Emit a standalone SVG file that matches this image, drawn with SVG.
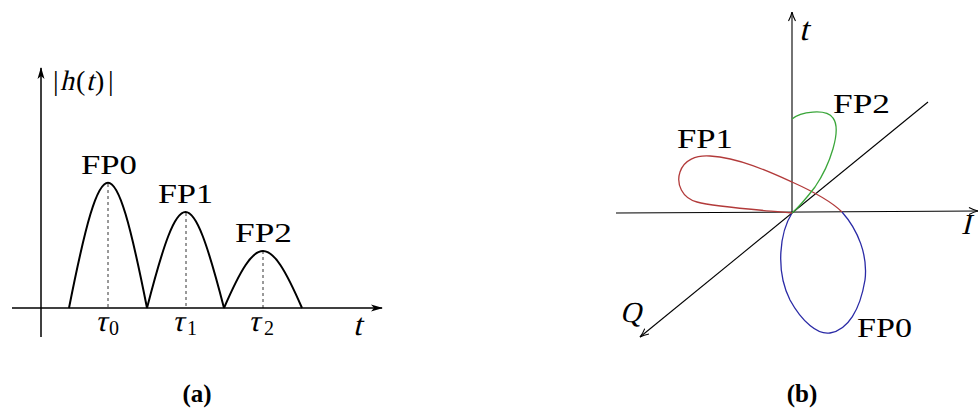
<svg xmlns="http://www.w3.org/2000/svg" width="979" height="410" viewBox="0 0 979 410">
<style>
.ax{stroke:#000;stroke-width:1.5;fill:none}
.axb{stroke:#000;stroke-width:1.1;fill:none}
.hump{stroke:#000;stroke-width:2;fill:none}
.dash{stroke:#000;stroke-width:0.8;stroke-dasharray:3 3;fill:none}
.lbl{font-family:"Liberation Serif",serif;font-size:27px;fill:#000}
.math{font-family:"Liberation Serif",serif;fill:#000}
.cap{font-family:"Liberation Serif",serif;font-weight:bold;font-size:25px;fill:#000}
</style>
<defs>
<marker id="arrA" viewBox="0 0 12 8" refX="11" refY="4" markerWidth="12" markerHeight="8" markerUnits="userSpaceOnUse" orient="auto">
<path d="M0,0.5 L12,4 L0,7.5 L3,4 z" fill="#000"/>
</marker>
<marker id="arrB" viewBox="0 0 10 8" refX="9.5" refY="4" markerWidth="10" markerHeight="8" markerUnits="userSpaceOnUse" orient="auto">
<path d="M0.5,0.5 Q5,3 9.5,4 Q5,5 0.5,7.5" fill="none" stroke="#000" stroke-width="1.1"/>
</marker>
</defs>
<rect width="979" height="410" fill="#fff"/>

<g id="panel-a">
<g id="axes-a">
<line class="ax" x1="41" y1="337" x2="41" y2="68" marker-end="url(#arrA)"/>
<line class="ax" x1="12" y1="308" x2="382" y2="308" marker-end="url(#arrA)"/>
<g id="ylabel-a" class="math" font-size="28">
<text x="53" y="90">|</text>
<text transform="translate(60,90) skewX(-13)">h</text>
<text x="76" y="90">(</text>
<text transform="translate(86,90) skewX(-14)">t</text>
<text x="95" y="90">)</text>
<text x="108" y="90">|</text>
</g>
<text class="math" font-size="31" transform="translate(353,335) skewX(-14)">t</text>
</g>
<g id="FP0-a">
<path class="hump" d="M69,308 C102,141 114,141 147,308"/>
<line class="dash" x1="108" y1="184" x2="108" y2="308"/>
<text class="lbl" x="81" y="174" textLength="56" lengthAdjust="spacingAndGlyphs">FP0</text>
<text class="math" font-size="30" transform="translate(95,331) skewX(-13)">τ</text>
<text class="math" font-size="20" x="109" y="335">0</text>
</g>
<g id="FP1-a">
<path class="hump" d="M147,308 C180,180 191,180 224,308"/>
<line class="dash" x1="186" y1="213" x2="186" y2="308"/>
<text class="lbl" x="158" y="203" textLength="55" lengthAdjust="spacingAndGlyphs">FP1</text>
<text class="math" font-size="30" transform="translate(172,331) skewX(-13)">τ</text>
<text class="math" font-size="20" x="187" y="335">1</text>
</g>
<g id="FP2-a">
<path class="hump" d="M224,308 C257,232 269,232 302,308"/>
<line class="dash" x1="263" y1="251" x2="263" y2="308"/>
<text class="lbl" x="235" y="242" textLength="57" lengthAdjust="spacingAndGlyphs">FP2</text>
<text class="math" font-size="30" transform="translate(248,331) skewX(-13)">τ</text>
<text class="math" font-size="20" x="264" y="335">2</text>
</g>
<text class="cap" x="197" y="402" text-anchor="middle">(a)</text>
</g>

<g id="panel-b">
<g id="axes-b">
<line class="axb" x1="792" y1="213" x2="792" y2="12" marker-end="url(#arrB)"/>
<line class="axb" x1="616" y1="213" x2="978" y2="211" marker-end="url(#arrB)"/>
<line class="axb" x1="928" y1="102" x2="640" y2="337" marker-end="url(#arrB)"/>
<text class="math" font-size="33" transform="translate(799,40) skewX(-14)">t</text>
<text class="math" font-size="29" transform="translate(961,234) skewX(-14)">I</text>
<text class="math" font-size="29" transform="translate(620,322) skewX(-14)">Q</text>
</g>
<g id="FP0-b">
<path d="M792,213 C780,232 775,270 790,300 C802,322 818,335 830,333 C848,330 860,310 865,280 C868,255 858,230 842,212" fill="none" stroke="#2a2aa6" stroke-width="1.3"/>
<text class="lbl" x="857" y="337" textLength="55" lengthAdjust="spacingAndGlyphs">FP0</text>
</g>
<g id="FP1-b">
<path d="M792,213 C760,210 715,207 697,202 C682,198 676,184 680,172 C684,160 696,155 710,156 C740,158 770,172 792,182 C812,191 830,200 842,212" fill="none" stroke="#b23a3a" stroke-width="1.3"/>
<text class="lbl" x="677" y="148" textLength="56" lengthAdjust="spacingAndGlyphs">FP1</text>
</g>
<g id="FP2-b">
<path d="M792,119 C800,112 826,108 833,118 C842,130 830,165 815,187 C805,200 798,208 792,213" fill="none" stroke="#3aa63a" stroke-width="1.3"/>
<text class="lbl" x="833" y="113" textLength="57" lengthAdjust="spacingAndGlyphs">FP2</text>
</g>
<text class="cap" x="802" y="402" text-anchor="middle">(b)</text>
</g>
</svg>
